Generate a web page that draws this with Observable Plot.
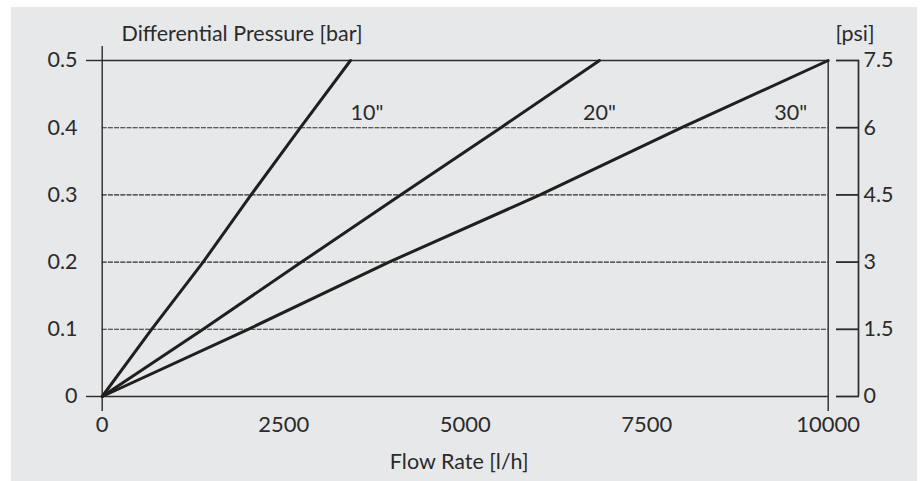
<!DOCTYPE html>
<html>
<head>
<meta charset="utf-8">
<script src="https://cdn.jsdelivr.net/npm/d3@7"></script>
<script src="https://cdn.jsdelivr.net/npm/@observablehq/plot@0.6"></script>
<style>
  html, body { margin: 0; padding: 0; background: #ffffff; }
  #wrap { position: relative; width: 921px; height: 481px; overflow: hidden; }
  #bg { position: absolute; left: 11px; top: 7px; width: 906px; height: 474px; background: #e7e8ea; }
  #chart { position: absolute; left: 0; top: 0; }
</style>
</head>
<body>
<div id="wrap"><div id="bg"></div><div id="chart"></div></div>
<script>
// Data
const pressureBar = [0, 0.1, 0.2, 0.3, 0.4, 0.5];
const flow10 = [0, 680, 1390, 2050, 2730, 3420];
const flow20 = [0, 1390, 2745, 4110, 5490, 6850];
const flow30 = [0, 2010, 3950, 6030, 7980, 10000];
const seriesNames = ['10"', '20"', '30"'];
const xTicks = [0, 2500, 5000, 7500, 10000];
const yTicks = [0, 0.1, 0.2, 0.3, 0.4, 0.5];
const psiLabels = ["0", "1.5", "3", "4.5", "6", "7.5"];
const gridValues = [0.1, 0.2, 0.3, 0.4];

const flows = [flow10, flow20, flow30];
const rows = [];
flows.forEach((arr, s) => arr.forEach((f, i) => rows.push({series: seriesNames[s], flow: f, bar: pressureBar[i]})));
const ends = seriesNames.map((name, s) => ({series: name, flow: flows[s][flows[s].length - 1], bar: 0.4}));
const psiMap = new Map(yTicks.map((v, i) => [v, psiLabels[i]]));

const ink = "#2b2b2b";
const lineInk = "#1f1f1f";

const chart = Plot.plot({
  width: 921,
  height: 481,
  marginLeft: 101.7,
  marginRight: 93.3,
  marginTop: 60,
  marginBottom: 85,
  style: {background: "transparent", fontFamily: "Lato, 'Open Sans', sans-serif", fontSize: "21.5px", color: ink},
  x: {domain: [0, 10000]},
  y: {domain: [0, 0.5]},
  marks: [
    // dashed grid
    Plot.ruleY(gridValues, {stroke: ink, strokeWidth: 1.1, strokeDasharray: "5,1.2"}),
    // solid frame lines at 0 and 0.5
    Plot.ruleY([0, 0.5], {stroke: ink, strokeWidth: 1.4}),
    Plot.ruleX([0, 10000], {stroke: ink, strokeWidth: 1.4}),
    // left axis
    Plot.axisY([0, 0.5], {anchor: "left", tickSize: 15.7, tickPadding: 9, strokeWidth: 1.4, stroke: ink, fill: ink, label: null, tickFormat: d => String(d)}),
    Plot.axisY([0.1, 0.2, 0.3, 0.4], {anchor: "left", tickSize: 0, tickPadding: 24.7, fill: ink, label: null, tickFormat: d => String(d)}),
    // bottom axis
    Plot.axisX([0, 10000], {anchor: "bottom", tickSize: 15, strokeWidth: 1.4, stroke: ink, label: null, tickFormat: () => ""}),
    Plot.axisX(xTicks, {anchor: "bottom", tickSize: 0, tickPadding: 20, fontSize: 22, fill: ink, label: null, tickFormat: d => String(d)}),
    Plot.axisX([0], {anchor: "top", tickSize: 15, strokeWidth: 1.4, stroke: ink, label: null, tickFormat: () => ""}),
    // psi axis
    Plot.ruleX([10000], {dx: 30.3, stroke: ink, strokeWidth: 1.7}),
    Plot.axisY(yTicks, {anchor: "right", dx: 7.3, tickSize: 23, tickPadding: 5, strokeWidth: 1.8, stroke: ink, fill: ink, label: null, tickFormat: d => psiMap.get(d)}),
    // curves
    Plot.line(rows, {x: "flow", y: "bar", z: "series", stroke: lineInk, strokeWidth: 3}),
    // curve labels
    Plot.text(ends.filter(d => d.series === seriesNames[0]), {x: "flow", y: "bar", text: "series", textAnchor: "start", lineAnchor: "bottom", dy: -8, fill: ink}),
    Plot.text(ends.filter(d => d.series === seriesNames[1]), {x: "flow", y: "bar", text: "series", textAnchor: "middle", lineAnchor: "bottom", dy: -8, fill: ink}),
    Plot.text(ends.filter(d => d.series === seriesNames[2]), {x: "flow", y: "bar", text: "series", textAnchor: "end", dx: -21, lineAnchor: "bottom", dy: -8, fill: ink}),
    // titles
    Plot.text(["Differential Pressure [bar]"], {frameAnchor: "top-left", textAnchor: "start", lineAnchor: "bottom", dx: 19.3, dy: -20, fill: ink}),
    Plot.text(["[psi]"], {frameAnchor: "top-right", textAnchor: "start", lineAnchor: "bottom", dx: 7.3, dy: -20, fill: ink}),
    Plot.text(["Flow Rate [l/h]"], {frameAnchor: "bottom", textAnchor: "middle", lineAnchor: "bottom", dx: -6, dy: 72, fill: ink})
  ]
});
document.getElementById("chart").appendChild(chart);
</script>
</body>
</html>
